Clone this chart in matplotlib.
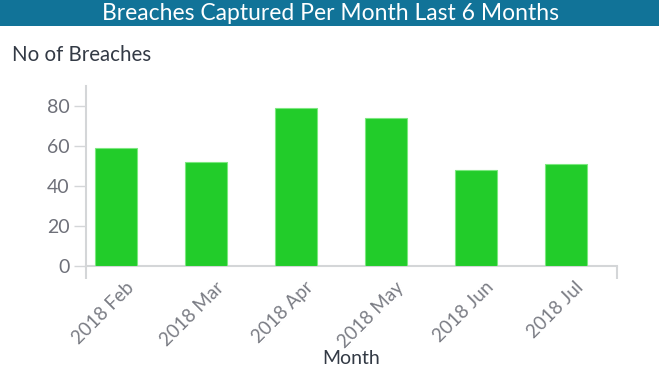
import matplotlib
matplotlib.use('Agg')
import matplotlib.pyplot as plt
from matplotlib.patches import Rectangle
from matplotlib.transforms import ScaledTranslation
#
# data
#
months   = ['2018 Feb', '2018 Mar', '2018 Apr', '2018 May', '2018 Jun', '2018 Jul']
breaches = [59, 52, 79, 74, 48, 51]
yticks   = [0, 20, 40, 60, 80]
#
plt.rcParams['font.family'] = ['Lato', 'DejaVu Sans']
#
fig = plt.figure(figsize=(6.59, 3.89), dpi=100)
fig.patch.set_facecolor('white')
#
# title bar
fig.patches.append(Rectangle((0, 0.933), 1, 0.067, transform=fig.transFigure,
                             facecolor='#117398', edgecolor='none', zorder=0))
fig.text(0.501, 0.965, 'Breaches Captured Per Month Last 6 Months', color='white',
         fontsize=16.5, ha='center', va='center')
#
ax = fig.add_axes([0.1305, 0.3162, 0.8058, 0.4627])
x = list(range(len(months)))
ax.bar(x, breaches, width=0.467, color='#22cc2a', edgecolor='#7be87f', linewidth=0.8, zorder=3)
#
ax.set_xlim(-0.333, 5.567)
ax.set_ylim(0, 90)
ax.set_yticks(yticks)
ax.tick_params(axis='y', colors='#d4d6d8', labelcolor='#6e7079', labelsize=14,
               length=9, width=1, pad=3)
ax.set_xticks(x)
ax.set_xticklabels(months, rotation=45, ha='right', va='center', rotation_mode='anchor')
ax.tick_params(axis='x', length=0, labelcolor='#7a7c84', labelsize=13.5, pad=13.5)
# shift labels right so they end just past the bar centre
for lbl in ax.get_xticklabels():
    lbl.set_transform(lbl.get_transform() + ScaledTranslation(0.15, 0, fig.dpi_scale_trans))
# end ticks on x axis
ax.set_xticks([-0.333, 5.567], minor=True)
ax.tick_params(axis='x', which='minor', length=9, width=1.5, colors='#d4d6d8')
#
for side in ['top', 'right']:
    ax.spines[side].set_visible(False)
for side in ['left', 'bottom']:
    ax.spines[side].set_color('#d4d6d8')
    ax.spines[side].set_linewidth(1.5)
#
fig.text(0.018, 0.858, 'No of Breaches', color='#333a45', fontsize=14.8, ha='left', va='center')
fig.text(0.533, 0.078, 'Month', color='#333a45', fontsize=14, ha='center', va='center')
#
fig.savefig('out.png', dpi=100)
